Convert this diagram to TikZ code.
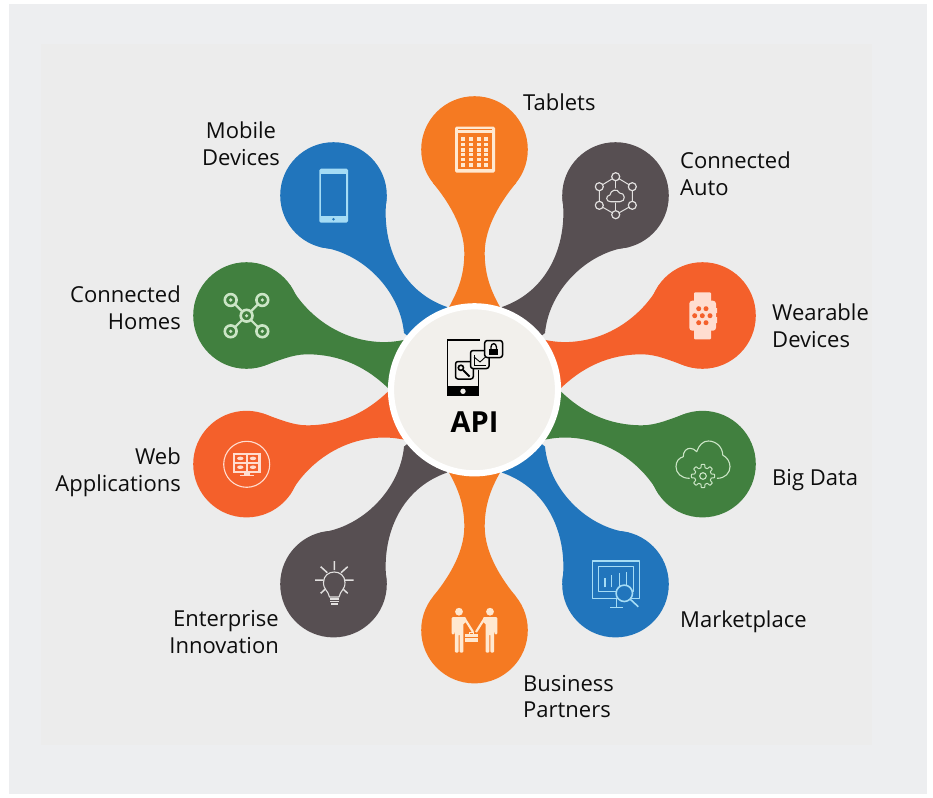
\documentclass[tikz,border=0pt]{standalone}
\usepackage{fontspec}
\setmainfont{Open Sans}
\definecolor{outerbg}{HTML}{EDEEF0}
\definecolor{innerbg}{HTML}{ECECEC}
\definecolor{porange}{HTML}{F57A22}
\definecolor{pblue}{HTML}{2175BC}
\definecolor{pgrey}{HTML}{574F52}
\definecolor{pgreen}{HTML}{41803F}
\definecolor{pred}{HTML}{F4602B}
\definecolor{hubfill}{HTML}{F2F0EC}
\definecolor{lorange}{HTML}{FFE8D0}
\definecolor{lblue}{HTML}{A5DCF5}
\definecolor{lgrey}{HTML}{E2E0DF}
\definecolor{lgreen}{HTML}{CBE5C6}
\definecolor{lred}{HTML}{FFDDD0}
\tikzset{
  lab/.style={font=\fontsize{22}{26.7}\selectfont, text=black!95, inner sep=0pt},
  labL/.style={lab, align=left, anchor=west},
  labR/.style={lab, align=right, anchor=east},
  icon/.style={line width=1.1pt, line cap=round, line join=round},
}
\newcommand\petalTablet[1]{%
  \fill[#1] (474.5,149.5) circle[radius=53.3];
  \fill[#1] (433,183) .. controls (447,200) and (464.3,226) .. (464.3,253)
     .. controls (464.3,275) and (458,291) .. (449,307) -- (474.5,389.8) -- (500,307)
     .. controls (491,291) and (484.7,275) .. (484.7,253)
     .. controls (484.7,226) and (502,200) .. (516,183) -- cycle;
}
\newcommand\petalMobile[1]{%
  \fill[#1] (333.5,195.5) circle[radius=53.3];
  \fill[#1] (386.7,197) .. controls (381,240) and (398,290) .. (447,307) -- (474.5,389.8) -- (404,333)
     .. controls (400,290) and (362,252) .. (320,247) -- cycle;
}
\newcommand\petalHomes[1]{%
  \fill[#1] (246.5,315.5) circle[radius=53.3];
  \fill[#1] (290,285) .. controls (303,310) and (335,340) .. (380,342)
     .. controls (390,342.5) and (400,341) .. (408,339) -- (474.5,389.8) -- (390,390)
     .. controls (367,367) and (340,354.3) .. (307,354.3)
     .. controls (292,354.3) and (278,361) .. (263,366) -- cycle;
}
\newcommand\onePerson{%
  \fill (459,611.7) circle[radius=3.9];
  \fill[rounded corners=1.2pt] (451.6,617) -- (466,617) -- (466,623) -- (463.4,623) -- (463.4,652.7) -- (459.6,652.7) -- (459.6,634) -- (458.6,634) -- (458.6,652.7) -- (454.9,652.7) -- (454.9,623) -- (454.4,634.5) -- (451.6,634.5) -- cycle;
  \draw[line width=2.2pt] (464.5,618.5) -- (473,632);
}
\begin{document}
\begin{tikzpicture}[x=1pt,y=-1pt]
\useasboundingbox (0,0) rectangle (933,797);
\fill[white] (0,0) rectangle (933,797);
\fill[outerbg] (9,4) rectangle (927,794);
\fill[innerbg] (41,44) rectangle (872,745);

% petals
\petalTablet{porange}
\petalMobile{pblue}
\petalHomes{pgreen}
\begin{scope}[shift={(949,0)},xscale=-1]
  \petalMobile{pgrey}
  \petalHomes{pred}
\end{scope}
\begin{scope}[shift={(0,779.6)},yscale=-1]
  \petalTablet{porange}
  \petalMobile{pgrey}
  \petalHomes{pred}
\end{scope}
\begin{scope}[shift={(949,779.6)},scale=-1]
  \petalMobile{pblue}
  \petalHomes{pgreen}
\end{scope}

% hub
\node[circle, draw=white, line width=6.2pt, fill=hubfill, minimum size=167pt, inner sep=0pt] (hub) at (474.5,389.8) {};
\node[inner sep=0pt, font=\fontsize{29}{32}\selectfont\bfseries, text=black] (apitext) at (474.5,422) {API};

% API icon
\fill[black] (446.7,386) rectangle (479.3,396);
\fill[hubfill] (463,391.3) circle[radius=2.7];
\draw[line width=1.5pt] (447.4,386) -- (447.4,340) -- (480,340);
\draw[line width=1.5pt] (478.6,386) -- (478.6,370);
\draw[line width=1.5pt, fill=hubfill, rounded corners=2.5pt] (455.5,361.5) rectangle (473.3,379);
\draw[line width=1.5pt, fill=hubfill, rounded corners=2.5pt] (470.5,350.5) rectangle (489,368.5);
\draw[line width=1.5pt, fill=hubfill, rounded corners=2.5pt] (484.7,340.5) rectangle (502.5,357.5);
\fill (489.2,348.5) rectangle (498.2,355);
\draw[line width=1.3pt] (491,349) -- (491,347) .. controls (491,342.6) and (496.4,342.6) .. (496.4,347) -- (496.4,349);
\draw[line width=1.6pt] (460.9,367.8) circle[radius=2.6];
\draw[line width=1.8pt] (463,370) -- (469.5,376.5);
\draw[line width=0.9pt] (474,355) -- (474,365) -- (486,365);
\draw[line width=0.9pt] (474,357) -- (480,362) -- (486,356.5);

% Tablets icon
\fill[lorange, rounded corners=1.5pt] (455,126.7) rectangle (495,172.7);
\fill[porange] (458,133) rectangle (491.7,169);
\fill[porange] (458,129) rectangle (491.7,130.3);
\foreach \cx in {463.3,471,478.7,486}
  \foreach \cy in {139,144.5,150,154.5,159.5,165}
    \fill[lorange] (\cx-1.9,\cy-1.6) rectangle (\cx+1.9,\cy+1.6);

% Mobile icon
\fill[lblue, rounded corners=1.5pt] (319.3,168.7) rectangle (348,222.7);
\fill[pblue] (321,174) rectangle (346.3,216);
\fill[pblue] (333.5,219.3) circle[radius=1.4];

% Connected Auto icon
\begin{scope}[icon, draw=lgrey]
  \foreach \n/\px/\py in {a/615.7/176.7, b/632.3/186.7, c/632.3/205.3, d/615.7/214.7, e/599.3/205.3, f/599.3/186.7}
    \coordinate (\n) at (\px,\py);
  \draw[line width=1pt] (a) -- (b) -- (c) -- (d) -- (e) -- (f) -- cycle;
  \draw[line width=1pt] (a) -- (615.7,188) (d) -- (615.7,203);
  \foreach \n in {a,b,c,d,e,f}
    \draw[fill=pgrey, line width=1.2pt] (\n) circle[radius=4];
  \draw[fill=pgrey, line width=1.1pt] (610.5,201.7) .. controls (605.5,201.7) and (605.5,195.5) .. (610,195)
     .. controls (610,190.5) and (617.5,187.5) .. (619.5,193)
     .. controls (625.5,192.5) and (626,201.7) .. (620,201.7) -- cycle;
\end{scope}

% Connected Homes icon
\draw[line width=2.2pt, lgreen] (230.7,300) -- (262.3,331.3) (262.3,300) -- (230.7,331.3);
\foreach \px/\py in {230.7/300, 262.3/300, 230.7/331.3, 262.3/331.3, 246.6/315.7} {
  \draw[lgreen, line width=2.6pt, fill=pgreen] (\px,\py) circle[radius=5.9];
  \fill[lgreen] (\px,\py) circle[radius=1.8];
}

% Web icon
\draw[lred, line width=1.1pt] (246.7,464.3) circle[radius=23];
\fill[lred] (232.7,452.7) rectangle (260.7,472.7);
\foreach \ax/\ay in {235/454.8, 247.7/454.8, 235/463.6, 247.7/463.6} {
  \fill[pred] (\ax,\ay) rectangle (\ax+10.6,\ay+7.2);
  \fill[lred] (\ax+5.3,\ay+3.6) ellipse[x radius=3.2, y radius=1.8];
}
\fill[lred] (243.5,472.7) rectangle (250,475);
\fill[lred] (239.5,475) rectangle (254,476.3);

% Wearable icon
\fill[lred, rounded corners=1pt] (694,292.3) rectangle (711,302);
\fill[lred, rounded corners=1pt] (694,329) rectangle (711,339.3);
\fill[lred, rounded corners=3pt] (689.3,300.7) rectangle (716,330.7);
\fill[lred] (716,308) rectangle (717.2,313) (716,317) rectangle (717.2,323);
\foreach \px/\py in {698.7/308.7, 706/308.7, 694.7/315.7, 702.3/315.7, 710/315.7, 698.7/322.7, 706/322.7}
  \fill[pred] (\px,\py) circle[radius=2.5];

% Big Data icon
\begin{scope}[icon, draw=lgreen]
  \draw (689.3,478.3) .. controls (681,478.3) and (676,473) .. (676,466.7)
    .. controls (676,461) and (679,458) .. (683.3,456.7)
    .. controls (683,451) and (687,448.3) .. (690,448.3)
    .. controls (692.5,448.3) and (695,449.5) .. (696.7,451.7)
    .. controls (699,445) and (703,441) .. (708.3,441)
    .. controls (716,441) and (722.7,447) .. (722.7,455)
    .. controls (727,457.5) and (730,461.5) .. (730,466.7)
    .. controls (730,473) and (725,478.3) .. (717.3,478.3);
  \draw[line width=1pt] plot[samples=145,domain=0:360] ({703+(10+1.6*max(min(3*cos(8*\x),1),-1))*cos(\x)},{476+(10+1.6*max(min(3*cos(8*\x),1),-1))*sin(\x)}) -- cycle;
  \draw (703,476) circle[radius=3.3];
\end{scope}

% Marketplace icon
\begin{scope}[icon, draw=lblue, line width=1.3pt, line cap=butt]
  \draw (592.7,561) rectangle (639.3,598.3);
  \draw (598.3,566.7) rectangle (633.3,591.7);
  \draw (605,587.3) -- (605,578.3) (611.7,587.3) -- (611.7,575) (619.3,587.3) -- (619.3,573.3) (626.7,587.3) -- (626.7,571.7);
  \draw (616.7,598.3) -- (616.7,607.3) (610,607.3) -- (623.3,607.3);
  \draw[fill=pblue, line width=1.6pt] (624.3,593.3) circle[radius=8.2];
  \draw[line width=1.6pt] (630.2,599.2) -- (638.3,606.7);
\end{scope}

% Enterprise icon
\begin{scope}[icon, draw=lgrey]
  \draw (329.5,597) .. controls (328,590) and (323.5,590) .. (323.5,582.5)
     .. controls (323.5,568.5) and (345,568.5) .. (345,582.5)
     .. controls (345,590) and (340.5,590) .. (339,597) -- cycle;
  \draw[line width=1.5pt, line cap=butt] (330,599) -- (338.5,599) (330,601.5) -- (338.5,601.5) (331,604) -- (337.5,604);
  \draw[line width=1.5pt, line cap=butt] (334.3,561) -- (334.3,570) (315,580) -- (323.5,580) (345,580) -- (353.5,580)
     (320.7,566.7) -- (327.3,572.7) (347.7,566.7) -- (341,572.7) (320.7,593.3) -- (325,589.3) (347.7,593.3) -- (343.3,589.3);
\end{scope}

% Business icon
\begin{scope}[lorange, draw=lorange]
  \onePerson
  \begin{scope}[shift={(949,0)},xscale=-1]
    \onePerson
  \end{scope}
  \fill (465,634) rectangle (477.7,641.7);
  \draw[line width=.7pt] (469,634) -- (469,632.6) -- (473.7,632.6) -- (473.7,634);
  \draw[porange, line width=.4pt] (465,637) -- (477.7,637);
\end{scope}

% labels
\node[labL] (ltablets) at (523,102) {Tablets};
\node[lab, align=center] (lmobile) at (241,144) {Mobile\\Devices};
\node[labL] (lauto) at (680,174) {Connected\\Auto};
\node[labR] (lhomes) at (181,308) {Connected\\Homes};
\node[labL] (lwear) at (772,326) {Wearable\\Devices};
\node[labR] (lweb) at (181,472.5) {Web\\Applications};
\node[labL] (lbig) at (772,480) {Big Data};
\node[labR] (lent) at (279,632) {Enterprise\\Innovation};
\node[labL] (lmark) at (680,622) {Marketplace};
\node[labL] (lbus) at (523,696.5) {Business\\Partners};
\end{tikzpicture}
\end{document}
